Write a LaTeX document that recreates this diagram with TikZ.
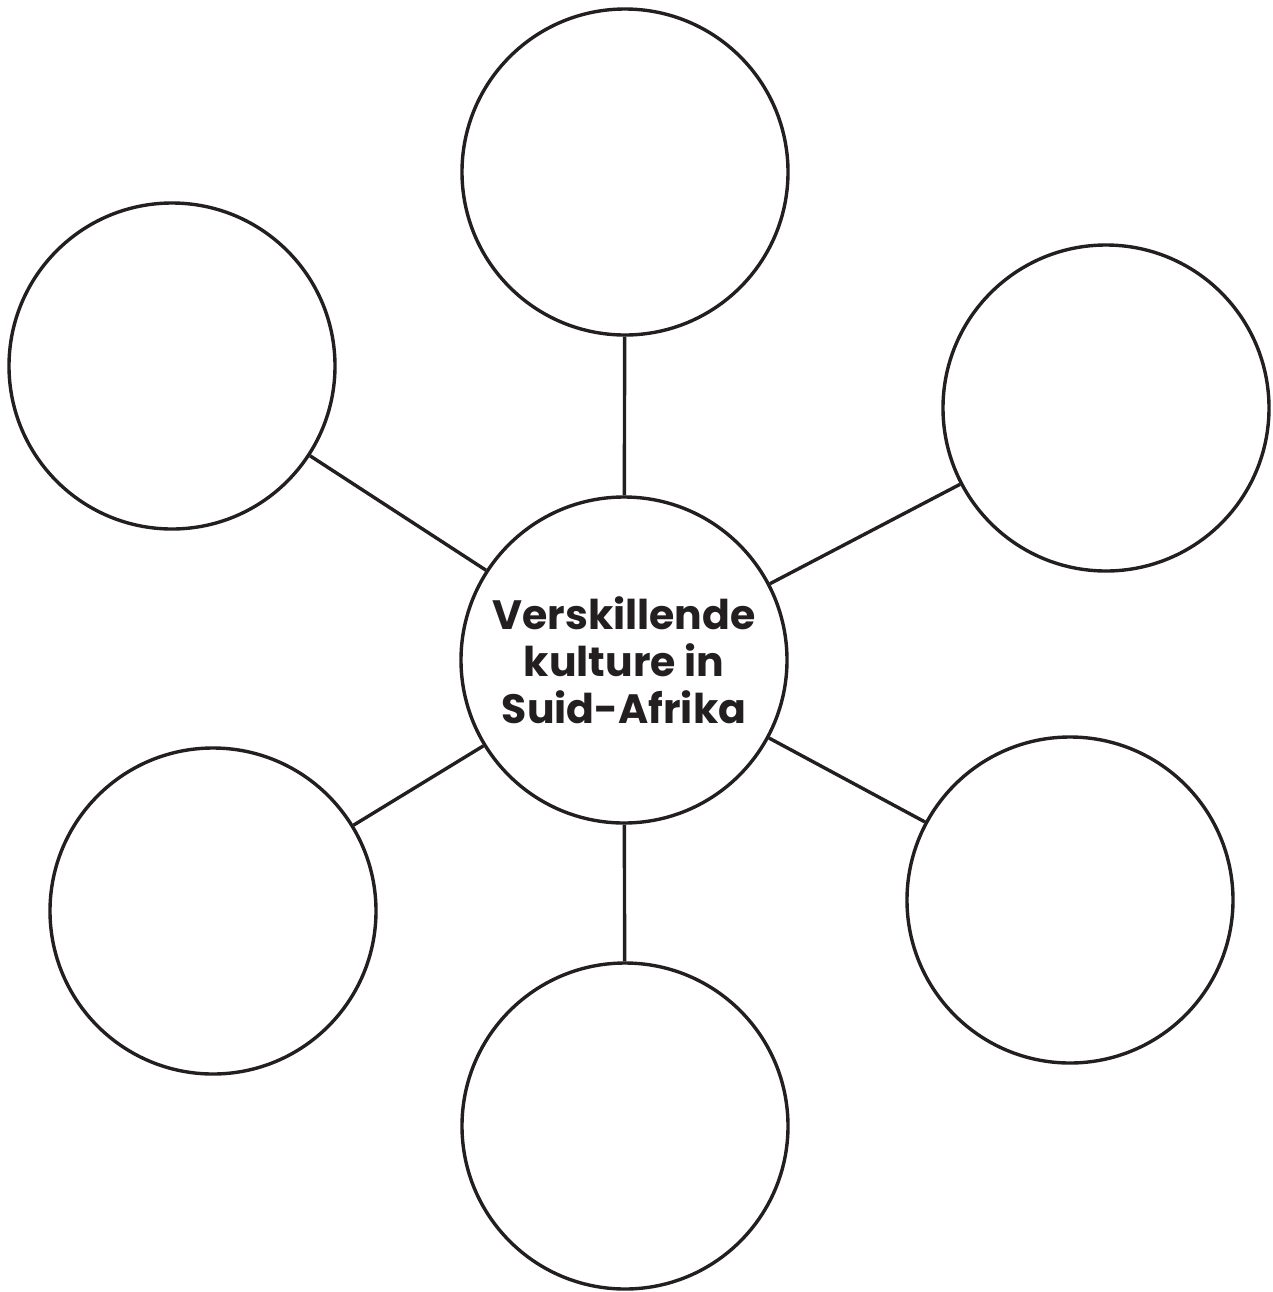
\documentclass[tikz,border=0pt]{standalone}
\usepackage{fontspec}
\setmainfont{Poppins}
\definecolor{ink}{HTML}{231F20}
\tikzset{
	bubble/.style={circle,draw=ink,line width=1.7pt,minimum size=163pt,inner sep=0pt},
	spoke/.style={draw=ink,line width=1.7pt}
}
\begin{document}
\begin{tikzpicture}[x=0.5pt,y=-0.5pt]
	\useasboundingbox (0,0) rectangle (1273,1292);
	\node[bubble,align=center,text=ink,font=\bfseries\fontsize{20.5}{23.5}\selectfont] (hub) at (624,660) {Verskillende\\kulture in\\Suid-Afrika};
	\foreach \n/\x/\y in {top/625/172, upleft/172/366, upright/1106/408, lowleft/213/911, lowright/1070/900, bottom/625/1126}
	{
		\node[bubble] (\n) at (\x,\y) {};
		\draw[spoke] (hub) -- (\n);
	}
\end{tikzpicture}
\end{document}
